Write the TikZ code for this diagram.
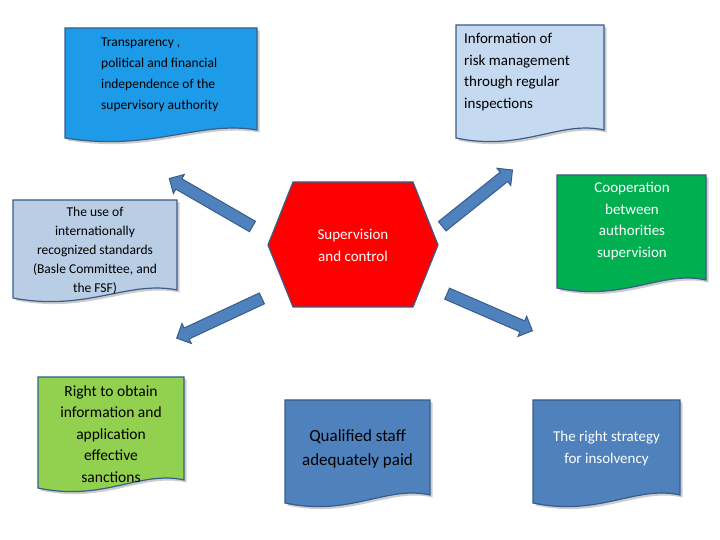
\documentclass[tikz,border=0pt]{standalone}
\usepackage{fontspec}
\setmainfont{Carlito}
\usetikzlibrary{shapes.arrows}
\newcommand{\docbox}[7]{%
 \fill[gray!40,xshift=2.5pt,yshift=-2.5pt] (#2,540-#3) -- (#4,540-#3) -- (#4,540-#5+8) .. controls ({#4-(#4-#2)*0.3},540-#5+18) and ({#2+(#4-#2)*0.45},540-#5-14) .. (#2,540-#5) -- cycle;
 \filldraw[fill=#6,draw=bordc,line width=1.2pt] (#2,540-#3) -- (#4,540-#3) -- (#4,540-#5+8) .. controls ({#4-(#4-#2)*0.3},540-#5+18) and ({#2+(#4-#2)*0.45},540-#5-14) .. (#2,540-#5) -- cycle;
 \coordinate (#1) at ({(#2+#4)/2},{540-(#3+#5)/2});
}
\definecolor{bordc}{RGB}{56,93,138}
\definecolor{arrc}{RGB}{79,129,189}
\definecolor{c1}{RGB}{30,155,232}
\definecolor{c2}{RGB}{197,217,241}
\definecolor{c3}{RGB}{185,205,229}
\definecolor{c5}{RGB}{0,176,80}
\definecolor{c6}{RGB}{146,208,80}
\tikzset{x=1pt,y=1pt,
 lbl/.style={align=center,inner sep=0pt},
 blk/.style={single arrow,draw=bordc,fill=arrc,line width=1pt,minimum width=22pt,single arrow head extend=5pt,inner xsep=0pt,inner ysep=5.5pt,single arrow head indent=0pt}}
\begin{document}
\begin{tikzpicture}
\useasboundingbox (0,0) rectangle (720,540);
\docbox{d1}{65}{28}{257}{138}{c1}{}
\node[lbl,align=left,font=\fontsize{13.5}{21}\selectfont,anchor=north west] (t1) at (101,502) {Transparency ,\\political and financial\\independence of the\\supervisory authority};
\docbox{d2}{456}{25}{604}{138}{c2}{}
\node[lbl,align=left,font=\fontsize{15}{21.5}\selectfont,anchor=north west] (t2) at (464,507) {Information of\\risk management\\through regular\\inspections};
\docbox{d3}{13}{200}{177}{298}{c3}{}
\node[lbl,font=\fontsize{13.5}{19}\selectfont] (t3) at (95,289) {The use of\\internationally\\recognized standards\\(Basle Committee, and\\the FSF)};
\filldraw[draw=bordc,line width=1.2pt,fill=red] (268,295) -- (293,358) -- (413,358) -- (438,295) -- (413,233) -- (293,233) -- cycle;
\node[lbl,text=white,font=\fontsize{15}{22}\selectfont] (hex) at (353,295) {Supervision\\and control};
\docbox{d5}{557}{175}{706}{288}{c5}{}
\node[lbl,text=white,font=\fontsize{15}{21.5}\selectfont] (t5) at (632,319) {Cooperation\\between\\authorities\\supervision};
\docbox{d6}{38}{377}{184}{488}{c6}{}
\node[lbl,font=\fontsize{15.5}{21.5}\selectfont] (t6) at (111,106) {Right to obtain\\information and\\application\\effective\\sanctions};
\docbox{d7}{285}{400}{430}{503}{arrc}{}
\node[lbl,font=\fontsize{17}{24}\selectfont] (t7) at (357.5,91) {Qualified staff\\adequately paid};
\docbox{d8}{533}{400}{680}{503}{arrc}{}
\node[lbl,text=white,font=\fontsize{15}{22}\selectfont] (t8) at (606.5,91) {The right strategy\\for insolvency};
\node[blk,minimum height=96pt,rotate=150] (a1) at (213.5,336) {};
\node[blk,minimum height=90pt,rotate=38.7] (a2) at (475,340) {};
\node[blk,minimum height=94pt,rotate=205] (a3) at (222,223) {};
\node[blk,minimum height=93pt,rotate=-23.5] (a4) at (487,229) {};
\end{tikzpicture}
\end{document}
